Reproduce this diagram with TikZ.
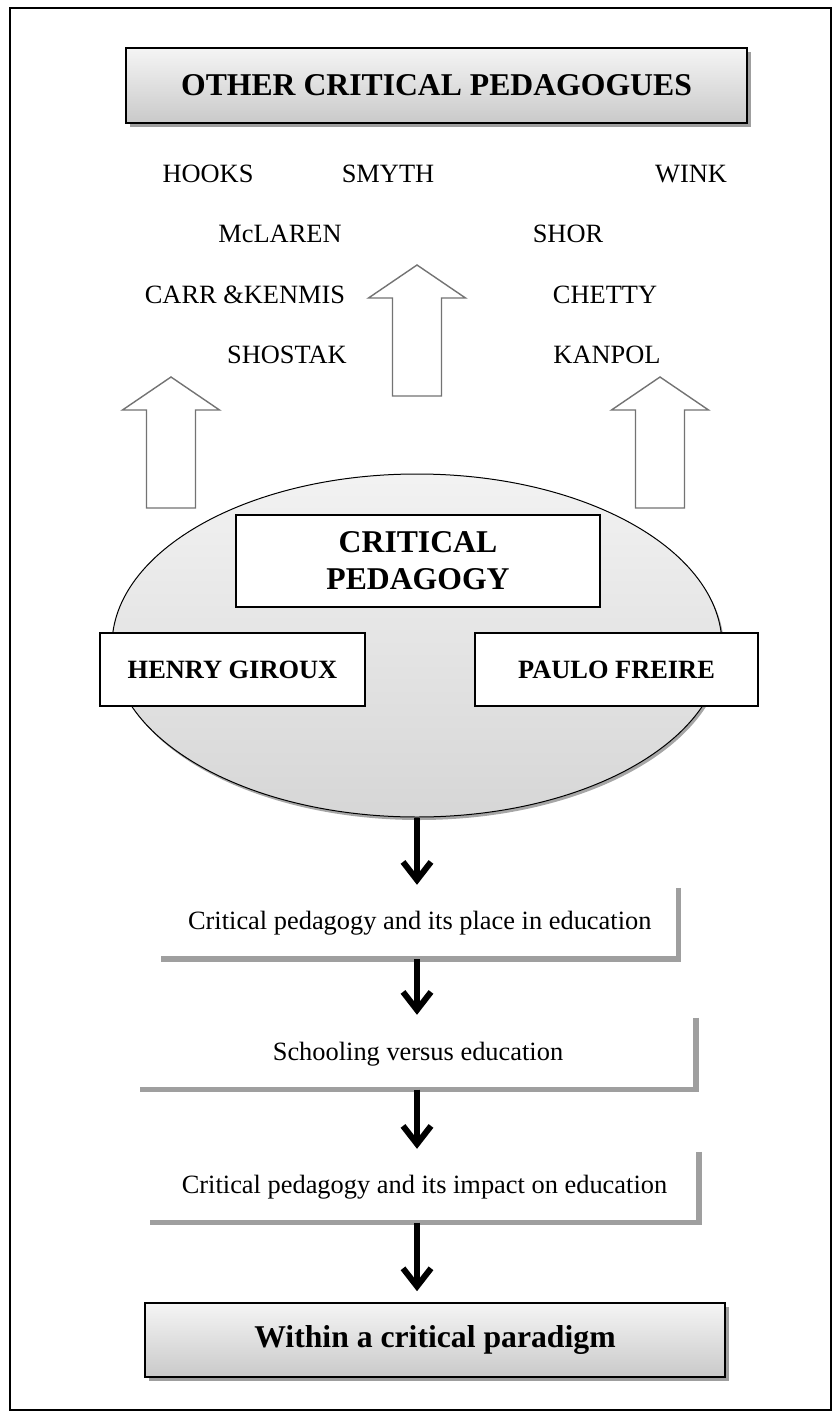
\documentclass[tikz,border=0pt]{standalone}
\usepackage{fontspec}
\setmainfont{Liberation Serif}
\usetikzlibrary{shapes.geometric,arrows.meta,shadows,positioning}

\newcommand{\namefont}{\fontsize{26.4}{30}\selectfont}
\newcommand{\headfont}{\fontsize{31.7}{37}\selectfont\bfseries}
% hollow upward block arrow: centre x, tip y, bottom y
\newcommand{\upblock}[3]{%
  \draw[blockArrow] (#1,#2) -- (#1+48.5,#2+33) -- (#1+24.5,#2+33) -- (#1+24.5,#3)
    -- (#1-24.5,#3) -- (#1-24.5,#2+33) -- (#1-48.5,#2+33) -- cycle;}

\begin{document}
\begin{tikzpicture}[x=1pt, y=-1pt,
        headBox/.style={rectangle, draw, line width=1.6pt, top color=gray!8, bottom color=gray!42,
            drop shadow={shadow xshift=4pt, shadow yshift=-4pt, fill=gray!75, opacity=1},
            align=center, inner sep=0pt, font=\headfont},
        authorBox/.style={rectangle, draw, line width=1.1pt, fill=white, align=center, inner sep=0pt, font=\namefont\bfseries},
        nameLabel/.style={anchor=base, inner sep=0pt, font=\namefont},
        stepBox/.style={rectangle, fill=white, inner sep=0pt, font=\namefont},
        stepEdge/.style={draw=gray!75, line width=5.5pt},
        blockArrow/.style={draw=gray!90!black, line width=1.4pt, fill=white, line join=miter},
        flow/.style={line width=6.5pt, -{Straight Barb[length=18pt, width=28pt, line width=6pt]}, shorten >=3pt}
    ]
        \useasboundingbox (0,0) rectangle (833,1412);
        \draw[line width=2pt] (10,8) rectangle (831,1410);

        \node[headBox, minimum width=621, minimum height=75] (others) at (436.5,85.5) {OTHER CRITICAL PEDAGOGUES};

        \node[nameLabel] (hooks) at (208,183) {HOOKS};
        \node[nameLabel] (smyth) at (388,183) {SMYTH};
        \node[nameLabel] (wink) at (691,183) {WINK};
        \node[nameLabel] (mclaren) at (280,243) {McLAREN};
        \node[nameLabel] (shor) at (568,243) {SHOR};
        \node[nameLabel] (carr) at (245,303) {CARR \&KENMIS};
        \node[nameLabel] (chetty) at (605,303) {CHETTY};
        \node[nameLabel] (shostak) at (287,363) {SHOSTAK};
        \node[nameLabel] (kanpol) at (607,363) {KANPOL};

        \upblock{417}{265}{396}
        \upblock{171}{377}{508}
        \upblock{660}{377}{508}

        \node[ellipse, draw, line width=1pt, top color=gray!10, bottom color=gray!32, inner sep=0pt,
            minimum width=610, minimum height=343,
            drop shadow={shadow xshift=2pt, shadow yshift=-3pt, fill=gray!70, opacity=1}] (cloud) at (417,645.5) {};
        \node[authorBox, minimum width=364, minimum height=92, font=\headfont] (critical) at (418,561) {CRITICAL\\PEDAGOGY};
        \node[authorBox, minimum width=265, minimum height=73] (giroux) at (232.5,669.5) {HENRY GIROUX};
        \node[authorBox, minimum width=283, minimum height=73] (freire) at (616.5,669.5) {PAULO FREIRE};

        \node[stepBox, minimum width=517.5, minimum height=71] (place) at (419.75,923.5) {Critical pedagogy and its place in education};
        \node[stepBox, minimum width=556, minimum height=71.5] (schooling) at (418,1053.75) {Schooling versus education};
        \node[stepBox, minimum width=549, minimum height=70.5] (impact) at (424.5,1187.25) {Critical pedagogy and its impact on education};
        \node[headBox, minimum width=580, minimum height=74] (paradigm) at (435,1340) {Within a critical paradigm};

        \draw[stepEdge] (place.north east) -- (place.south east) -- (place.south west);
        \draw[stepEdge] (schooling.north east) -- (schooling.south east) -- (schooling.south west);
        \draw[stepEdge] (impact.north east) -- (impact.south east) -- (impact.south west);

        \draw[flow] (cloud.south) -- (place.north -| cloud.south);
        \draw[flow] (place.south -| cloud.south) -- (schooling.north -| cloud.south);
        \draw[flow] (schooling.south -| cloud.south) -- (impact.north -| cloud.south);
        \draw[flow, shorten >=11pt] (impact.south -| cloud.south) -- (paradigm.north -| cloud.south);
    \end{tikzpicture}
\end{document}
